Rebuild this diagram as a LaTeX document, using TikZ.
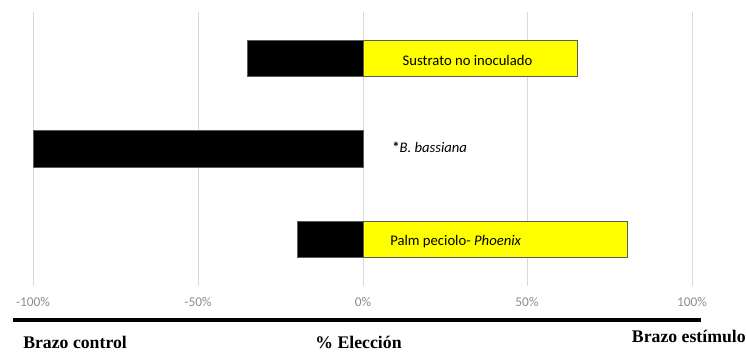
\documentclass[tikz,border=0pt]{standalone}
\usepackage{fontspec}
\setmainfont{Liberation Serif}
\newfontfamily\chartfont{Carlito}

\definecolor{baryellow}{RGB}{255, 255, 0}
\definecolor{gridgray}{RGB}{217, 217, 217}
\definecolor{tickgray}{RGB}{140, 140, 140}
\definecolor{edgegray}{RGB}{90, 90, 90}

\tikzset{
  ticklabel/.style={text=tickgray, inner sep=0pt, font=\chartfont\fontsize{10}{12}\selectfont},
  barlabel/.style={inner sep=0pt, font=\chartfont\fontsize{11}{13}\selectfont},
  armlabel/.style={inner sep=0pt, font=\fontsize{13.3}{16}\selectfont\bfseries},
  blackbar/.style={draw=edgegray, fill=black},
  yellowbar/.style={draw=edgegray, fill=baryellow}
}

\begin{document}
\begin{tikzpicture}[x=0.75pt, y=-0.75pt]
			\useasboundingbox (0,0) rectangle (746,354);
			
			% Grid lines and tick labels
			\foreach \x/\name/\txt in {33/m100/-100, 198/m50/-50, 363/z0/0, 527/p50/50, 692/p100/100} {
				\draw[gridgray] (\x,12) -- (\x,286);
				\node[ticklabel] (\name) at (\x,302) {\txt\%};
			}
			
			% Bars - Row 1
			\draw[blackbar] (247.5,40) rectangle (363,76);
			\draw[yellowbar] (363,40) rectangle (577.5,76);
			\node[barlabel] (sustrato) at (467.5,60) {Sustrato no inoculado};
			
			% Bars - Row 2
			\draw[blackbar] (33,130) rectangle (363,167);
			\node[barlabel, anchor=west] (bassiana) at (392,147) {\textbf{*}\textit{B. bassiana}};
			
			% Bars - Row 3
			\draw[blackbar] (297,221) rectangle (363,257);
			\draw[yellowbar] (363,221) rectangle (627,257);
			\node[barlabel, anchor=west] (palm) at (390,242) {Palm peciolo- \textit{Phoenix}};
			
			% Axis line and arm labels
			\coordinate (axisL) at (13,320);
			\coordinate (axisR) at (701,320);
			\draw[line width=2.7pt] (axisL) -- (axisR);
			\node[armlabel, anchor=west] (control) at (23,342) {Brazo control};
			\node[armlabel] (eleccion) at (358.5,342) {\% Elección};
			\node[armlabel, anchor=east] (estimulo) at (746,336) {Brazo estímulo};
		\end{tikzpicture}
\end{document}
